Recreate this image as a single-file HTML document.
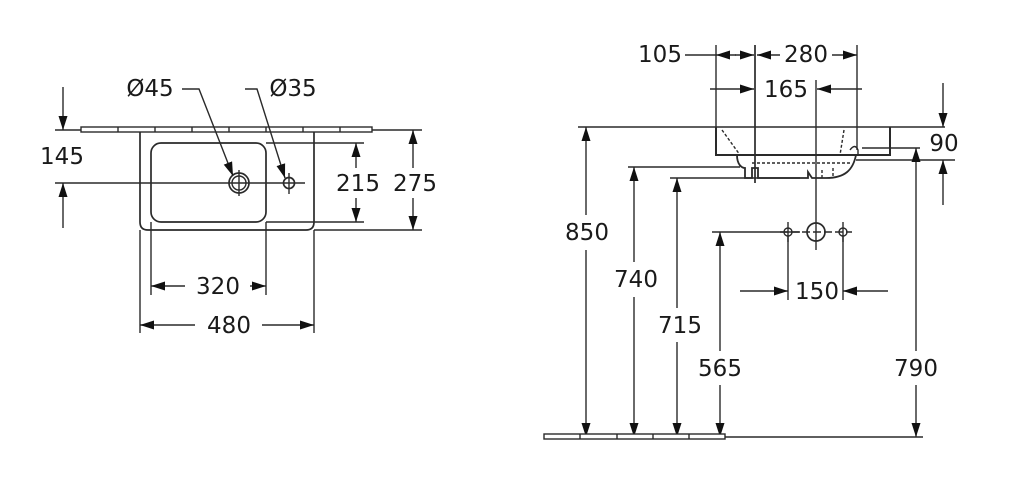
<!DOCTYPE html>
<html><head><style>
html,body{margin:0;padding:0;background:#fff;}
svg{display:block;}
text{font-family:"DejaVu Sans","Liberation Sans",sans-serif;font-size:23px;fill:#1a1a1a;text-anchor:middle;dominant-baseline:central;}
</style></head><body>
<svg width="1024" height="495" viewBox="0 0 1024 495" xmlns="http://www.w3.org/2000/svg">
<defs>
<marker id="a" markerWidth="15" markerHeight="10" refX="14" refY="5" orient="auto" markerUnits="userSpaceOnUse">
<path d="M0,0.5 L14,5 L0,9.5 z" fill="#111"/></marker>
</defs>
<g stroke="#2a2a2a" stroke-width="1.4" fill="none">
<!-- LEFT VIEW -->
<line x1="55" y1="130" x2="422" y2="130"/>
<rect x="81" y="127" width="291" height="5" fill="#fff"/>
<path d="M118 127v5M155 127v5M192 127v5M229 127v5M266 127v5M303 127v5M340 127v5"/>
<path d="M140 132 V222 Q140 230 148 230 H306 Q314 230 314 222 V132" stroke-width="1.7"/>
<rect x="151" y="143" width="115" height="79" rx="10" stroke-width="1.7"/>
<line x1="55" y1="183" x2="305" y2="183"/>
<circle cx="239" cy="183" r="10" stroke-width="1.7"/>
<circle cx="239" cy="183" r="7"/>
<line x1="239" y1="170" x2="239" y2="196"/>
<circle cx="289" cy="183" r="5.5" stroke-width="1.7"/>
<line x1="289" y1="173" x2="289" y2="194"/>
<path d="M182 89 H199 L233 176" marker-end="url(#a)"/>
<path d="M245 89 H257 L285 178" marker-end="url(#a)"/>
<line x1="63" y1="87" x2="63" y2="130" marker-end="url(#a)"/>
<line x1="63" y1="228" x2="63" y2="183" marker-end="url(#a)"/>
<line x1="266" y1="143" x2="364" y2="143"/>
<line x1="266" y1="222" x2="364" y2="222"/>
<line x1="356" y1="168" x2="356" y2="143" marker-end="url(#a)"/>
<line x1="356" y1="198" x2="356" y2="222" marker-end="url(#a)"/>
<line x1="314" y1="230" x2="422" y2="230"/>
<line x1="413" y1="168" x2="413" y2="130" marker-end="url(#a)"/>
<line x1="413" y1="198" x2="413" y2="230" marker-end="url(#a)"/>
<line x1="151" y1="222" x2="151" y2="295"/>
<line x1="266" y1="222" x2="266" y2="295"/>
<line x1="185" y1="286" x2="151" y2="286" marker-end="url(#a)"/>
<line x1="250" y1="286" x2="266" y2="286" marker-end="url(#a)"/>
<line x1="140" y1="230" x2="140" y2="333"/>
<line x1="314" y1="230" x2="314" y2="333"/>
<line x1="195" y1="325" x2="140" y2="325" marker-end="url(#a)"/>
<line x1="262" y1="325" x2="314" y2="325" marker-end="url(#a)"/>

<!-- RIGHT VIEW -->
<line x1="578" y1="127" x2="945" y2="127"/>
<path d="M716 127 V155 H890 V127" stroke-width="2"/>
<path d="M737 155 C737 165 742 168 745 168 V178 H752 V168 H758 V178 H808 V172 L812 178 H826 C845 178 853 170 856 155" stroke-width="1.8"/>
<path d="M722 130 L740 155 M844 130 L840 155 M822 170 V178 M833 168 V178" stroke-dasharray="3,2"/>
<path d="M752 163 H850" stroke-dasharray="3,2"/>
<path d="M850 150 Q855 143 858 150 V155" />
<line x1="716" y1="45" x2="716" y2="127"/>
<line x1="755" y1="45" x2="755" y2="183" stroke-width="1.7"/>
<line x1="857" y1="45" x2="857" y2="150"/>
<line x1="816" y1="80" x2="816" y2="250"/>
<line x1="685" y1="55" x2="716" y2="55"/>
<line x1="736" y1="55" x2="716" y2="55" marker-end="url(#a)"/>
<line x1="735" y1="55" x2="754" y2="55" marker-end="url(#a)"/>
<line x1="780" y1="55" x2="757" y2="55" marker-end="url(#a)"/>
<line x1="832" y1="55" x2="857" y2="55" marker-end="url(#a)"/>
<line x1="710" y1="89" x2="754" y2="89" marker-end="url(#a)"/>
<line x1="862" y1="89" x2="817" y2="89" marker-end="url(#a)"/>
<line x1="862" y1="148" x2="920" y2="148"/>
<line x1="856" y1="160" x2="955" y2="160"/>
<line x1="943" y1="83" x2="943" y2="127" marker-end="url(#a)"/>
<line x1="943" y1="205" x2="943" y2="160" marker-end="url(#a)"/>
<line x1="628" y1="167" x2="740" y2="167"/>
<line x1="670" y1="178" x2="800" y2="178"/>
<line x1="712" y1="232" x2="800" y2="232"/>
<line x1="780" y1="232" x2="852" y2="232" stroke-dasharray="8,3"/>
<circle cx="788" cy="232" r="4"/><line x1="788" y1="222" x2="788" y2="242"/>
<circle cx="843" cy="232" r="4"/><line x1="843" y1="222" x2="843" y2="242"/>
<circle cx="816" cy="232" r="9" stroke-width="1.7"/>
<line x1="788" y1="236" x2="788" y2="300"/>
<line x1="843" y1="236" x2="843" y2="300"/>
<line x1="740" y1="291" x2="788" y2="291" marker-end="url(#a)"/>
<line x1="888" y1="291" x2="843" y2="291" marker-end="url(#a)"/>
<line x1="586" y1="215" x2="586" y2="127" marker-end="url(#a)"/>
<line x1="586" y1="250" x2="586" y2="437" marker-end="url(#a)"/>
<line x1="634" y1="262" x2="634" y2="167" marker-end="url(#a)"/>
<line x1="634" y1="297" x2="634" y2="437" marker-end="url(#a)"/>
<line x1="677" y1="308" x2="677" y2="178" marker-end="url(#a)"/>
<line x1="677" y1="342" x2="677" y2="437" marker-end="url(#a)"/>
<line x1="720" y1="351" x2="720" y2="232" marker-end="url(#a)"/>
<line x1="720" y1="385" x2="720" y2="437" marker-end="url(#a)"/>
<line x1="916" y1="351" x2="916" y2="148" marker-end="url(#a)"/>
<line x1="916" y1="385" x2="916" y2="437" marker-end="url(#a)"/>
<line x1="544" y1="437" x2="923" y2="437"/>
<rect x="544" y="434" width="181" height="5" fill="#fff"/>
<path d="M580 434v5M617 434v5M653 434v5M689 434v5"/>
</g>
<text x="150" y="89">Ø45</text>
<text x="293" y="89">Ø35</text>
<text x="62" y="157">145</text>
<text x="358" y="184">215</text>
<text x="415" y="184">275</text>
<text x="218" y="287">320</text>
<text x="229" y="326">480</text>
<text x="660" y="55">105</text>
<text x="806" y="55">280</text>
<text x="786" y="90">165</text>
<text x="944" y="144">90</text>
<text x="587" y="233">850</text>
<text x="636" y="280">740</text>
<text x="680" y="326">715</text>
<text x="720" y="369">565</text>
<text x="916" y="369">790</text>
<text x="817" y="292">150</text>
</svg>
</body></html>
